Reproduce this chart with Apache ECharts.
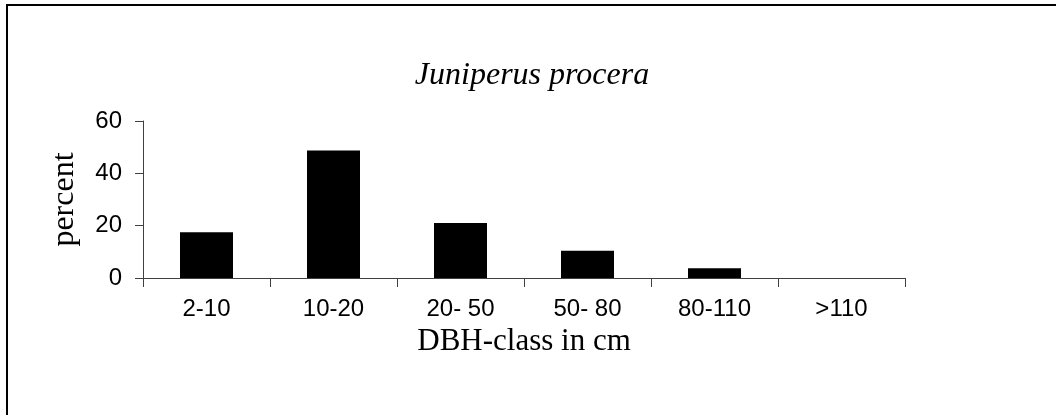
<!DOCTYPE html>
<html>
<head>
<meta charset="utf-8">
<script src="https://cdn.jsdelivr.net/npm/echarts@6/dist/echarts.min.js"></script>
<style>html,body{margin:0;padding:0;background:#fff}#c{width:1056px;height:415px}</style>
</head>
<body>
<div id="c"></div>
<script>
const categories = ['2-10', '10-20', '20- 50', '50- 80', '80-110', '>110'];
const percentValues = [17.5, 48.7, 21.0, 10.4, 3.7, 0];
const yTicks = [0, 20, 40, 60];
const titleText = 'Juniperus procera';
const xAxisName = 'DBH-class in cm';
const yAxisName = 'percent';

const chart = echarts.init(document.getElementById('c'), null, {renderer: 'canvas'});
chart.setOption({
  animation: false,
  backgroundColor: '#fff',
  graphic: [
    {type: 'rect', shape: {x: 7, y: 5, width: 1100, height: 500}, style: {fill: 'none', stroke: '#000', lineWidth: 2}, silent: true},
    {type: 'text', x: 532, y: 76, style: {text: titleText, fontFamily: 'Liberation Serif', fontStyle: 'italic', fontSize: 32, fill: '#000', align: 'center', verticalAlign: 'middle'}}
  ],
  grid: {left: 143, right: 151, top: 121, bottom: 137},
  xAxis: {
    type: 'category',
    data: categories,
    name: xAxisName,
    nameLocation: 'middle',
    nameGap: 48,
    nameTextStyle: {fontFamily: 'Liberation Serif', fontSize: 31, color: '#000'},
    axisLine: {lineStyle: {color: '#404040', width: 1}},
    axisTick: {show: true, length: 9, alignWithLabel: false, lineStyle: {color: '#404040'}},
    axisLabel: {margin: 19, fontFamily: 'Liberation Sans', fontSize: 24, color: '#000', interval: 0}
  },
  yAxis: {
    type: 'value',
    min: yTicks[0],
    max: yTicks[yTicks.length - 1],
    interval: yTicks[1] - yTicks[0],
    name: yAxisName,
    nameLocation: 'middle',
    nameRotate: 90,
    nameGap: 62,
    nameTextStyle: {fontFamily: 'Liberation Serif', fontSize: 32, color: '#000'},
    axisLine: {show: true, lineStyle: {color: '#404040', width: 1}},
    axisTick: {show: true, length: 8, lineStyle: {color: '#404040'}},
    splitLine: {show: false},
    axisLabel: {margin: 21, fontFamily: 'Liberation Sans', fontSize: 24, color: '#000'}
  },
  series: [{
    type: 'bar',
    data: percentValues,
    barWidth: 53,
    itemStyle: {color: '#000'}
  }]
});
</script>
</body>
</html>
